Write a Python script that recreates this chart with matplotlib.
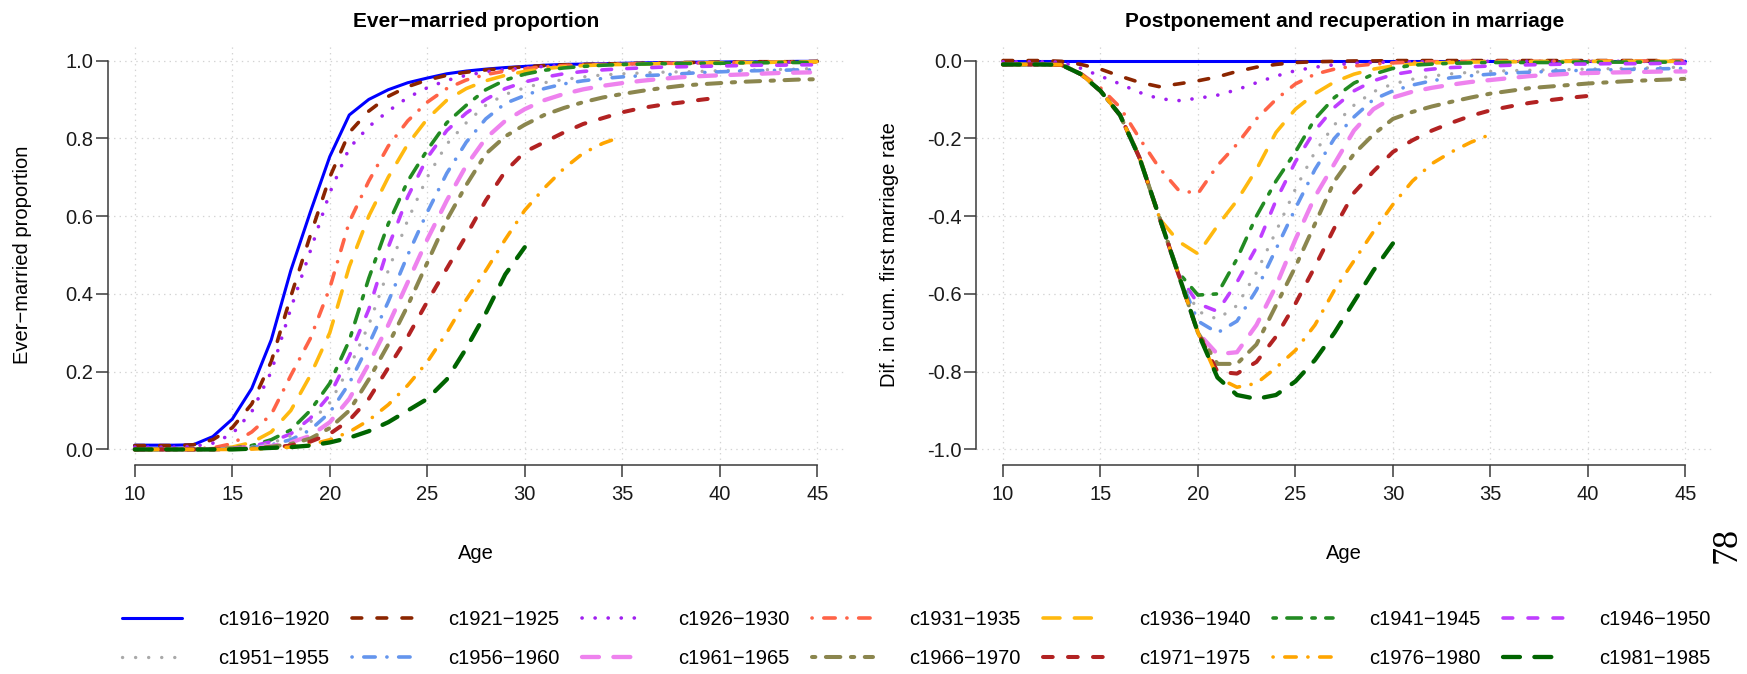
import numpy as np
import matplotlib
matplotlib.use('Agg')
import matplotlib.pyplot as plt

plt.rcParams['font.family'] = ['Liberation Sans', 'DejaVu Sans']
plt.rcParams['lines.scale_dashes'] = False
plt.rcParams['axes.unicode_minus'] = False

ages = list(range(10, 46))

cohorts = ['c1916\u22121920', 'c1921\u22121925', 'c1926\u22121930', 'c1931\u22121935',
           'c1936\u22121940', 'c1941\u22121945', 'c1946\u22121950', 'c1951\u22121955',
           'c1956\u22121960', 'c1961\u22121965', 'c1966\u22121970', 'c1971\u22121975',
           'c1976\u22121980', 'c1981\u22121985']

# ever-married proportion by age (10..45, shorter for young cohorts)
p1916 = [0.011, 0.011, 0.011, 0.012, 0.033, 0.078, 0.157, 0.282, 0.460, 0.610,
         0.753, 0.860, 0.900, 0.925, 0.943, 0.955, 0.966, 0.973, 0.978, 0.982,
         0.985, 0.988, 0.990, 0.991, 0.992, 0.993, 0.994, 0.995, 0.995, 0.996,
         0.996, 0.997, 0.997, 0.997, 0.998, 0.998]
p1921 = [0.010, 0.010, 0.010, 0.012, 0.025, 0.056, 0.117, 0.226, 0.393, 0.550,
         0.700, 0.815, 0.870, 0.908, 0.933, 0.950, 0.962, 0.970, 0.976, 0.980,
         0.984, 0.987, 0.989, 0.990, 0.991, 0.992, 0.993, 0.994, 0.995, 0.995,
         0.996, 0.996, 0.997, 0.997, 0.997, 0.998]
p1926 = [0.006, 0.006, 0.006, 0.008, 0.016, 0.040, 0.097, 0.200, 0.362, 0.510,
         0.660, 0.775, 0.830, 0.870, 0.905, 0.930, 0.949, 0.962, 0.971, 0.977,
         0.981, 0.985, 0.987, 0.989, 0.990, 0.991, 0.992, 0.993, 0.993, 0.994,
         0.994, 0.995, 0.995, 0.996, 0.996, 0.996]
p1931 = [0.000, 0.000, 0.000, 0.002, 0.004, 0.015, 0.045, 0.090, 0.190, 0.285,
         0.415, 0.585, 0.690, 0.780, 0.845, 0.893, 0.928, 0.950, 0.964, 0.973,
         0.979, 0.984, 0.987, 0.989, 0.990, 0.991, 0.992, 0.993, 0.993, 0.994,
         0.994, 0.995, 0.995, 0.996, 0.996, 0.996]
p1936 = [0.000, 0.000, 0.000, 0.000, 0.002, 0.006, 0.018, 0.045, 0.100, 0.190,
         0.300, 0.470, 0.600, 0.700, 0.785, 0.850, 0.898, 0.928, 0.948, 0.962,
         0.972, 0.979, 0.984, 0.987, 0.989, 0.990, 0.991, 0.992, 0.993, 0.994,
         0.994, 0.995, 0.995, 0.996, 0.996, 0.997]
p1941 = [0.000, 0.000, 0.000, 0.000, 0.001, 0.003, 0.010, 0.025, 0.050, 0.100,
         0.170, 0.280, 0.440, 0.580, 0.690, 0.770, 0.840, 0.885, 0.925, 0.950,
         0.965, 0.975, 0.981, 0.985, 0.988, 0.990, 0.991, 0.992, 0.992, 0.993,
         0.993, 0.994, 0.994, 0.995, 0.995, 0.995]
p1946 = [0.000, 0.000, 0.000, 0.000, 0.001, 0.003, 0.008, 0.020, 0.040, 0.080,
         0.140, 0.240, 0.360, 0.520, 0.650, 0.750, 0.820, 0.865, 0.900, 0.928,
         0.945, 0.957, 0.966, 0.972, 0.976, 0.979, 0.981, 0.983, 0.984, 0.985,
         0.986, 0.987, 0.988, 0.988, 0.989, 0.989]
p1951 = [0.000, 0.000, 0.000, 0.000, 0.001, 0.002, 0.006, 0.016, 0.035, 0.070,
         0.120, 0.210, 0.320, 0.460, 0.590, 0.700, 0.785, 0.840, 0.885, 0.913,
         0.930, 0.943, 0.951, 0.958, 0.963, 0.966, 0.968, 0.970, 0.971, 0.972,
         0.974, 0.975, 0.976, 0.977, 0.978, 0.980]
p1956 = [0.000, 0.000, 0.000, 0.000, 0.001, 0.002, 0.005, 0.012, 0.025, 0.050,
         0.095, 0.170, 0.270, 0.380, 0.500, 0.610, 0.710, 0.790, 0.850, 0.890,
         0.910, 0.928, 0.940, 0.948, 0.954, 0.958, 0.961, 0.963, 0.966, 0.969,
         0.971, 0.973, 0.974, 0.975, 0.976, 0.976]
p1961 = [0.000, 0.000, 0.000, 0.000, 0.001, 0.002, 0.004, 0.009, 0.018, 0.035,
         0.070, 0.130, 0.220, 0.320, 0.430, 0.540, 0.640, 0.730, 0.800, 0.845,
         0.875, 0.898, 0.914, 0.926, 0.935, 0.942, 0.948, 0.953, 0.957, 0.960,
         0.962, 0.964, 0.966, 0.968, 0.969, 0.970]
p1966 = [0.000, 0.000, 0.000, 0.000, 0.001, 0.002, 0.003, 0.007, 0.014, 0.028,
         0.055, 0.100, 0.180, 0.270, 0.370, 0.480, 0.590, 0.680, 0.760, 0.805,
         0.835, 0.860, 0.878, 0.893, 0.905, 0.914, 0.922, 0.929, 0.935, 0.939,
         0.942, 0.945, 0.947, 0.949, 0.951, 0.952]
p1971 = [0.000, 0.000, 0.000, 0.000, 0.000, 0.001, 0.002, 0.005, 0.010, 0.020,
         0.040, 0.075, 0.130, 0.210, 0.290, 0.380, 0.465, 0.550, 0.640, 0.715,
         0.765, 0.790, 0.815, 0.837, 0.852, 0.867, 0.878, 0.886, 0.892, 0.899,
         0.905]
p1976 = [0.000, 0.000, 0.000, 0.000, 0.000, 0.000, 0.001, 0.003, 0.006, 0.012,
         0.025, 0.045, 0.075, 0.115, 0.165, 0.225, 0.300, 0.385, 0.460, 0.540,
         0.615, 0.672, 0.722, 0.762, 0.787, 0.805]
p1981 = [0.000, 0.000, 0.000, 0.000, 0.000, 0.000, 0.002, 0.004, 0.006, 0.010,
         0.018, 0.030, 0.047, 0.070, 0.100, 0.130, 0.180, 0.260, 0.350, 0.450,
         0.520]

# difference in cumulated first marriage rate vs c1916-1920
d1916 = [0.0, 0.0, 0.0, 0.0, 0.0, 0.0, 0.0, 0.0, 0.0, 0.0,
         0.0, 0.0, 0.0, 0.0, 0.0, 0.0, 0.0, 0.0, 0.0, 0.0,
         0.0, 0.0, 0.0, 0.0, 0.0, 0.0, 0.0, 0.0, 0.0, 0.0,
         0.0, 0.0, 0.0, 0.0, 0.0, 0.0]
d1921 = [0.0, 0.0, 0.0, -0.002, -0.010, -0.022, -0.040, -0.056, -0.067, -0.060,
         -0.052, -0.042, -0.028, -0.017, -0.010, -0.005, -0.003, -0.002, -0.001, -0.001,
         0.0, 0.0, 0.0, 0.0, 0.0, 0.0, 0.0, 0.0, 0.0, 0.0,
         0.0, 0.0, 0.0, 0.0, 0.0, 0.0]
d1926 = [-0.003, -0.003, -0.003, -0.004, -0.020, -0.040, -0.060, -0.082, -0.098, -0.103,
         -0.097, -0.089, -0.075, -0.057, -0.040, -0.026, -0.017, -0.011, -0.007, -0.005,
         -0.004, -0.003, -0.003, -0.003, -0.002, -0.002, -0.002, -0.002, -0.002, -0.002,
         -0.002, -0.002, -0.002, -0.002, -0.002, -0.002]
d1931 = [-0.010, -0.010, -0.010, -0.011, -0.033, -0.070, -0.120, -0.200, -0.275, -0.333,
         -0.342, -0.270, -0.215, -0.150, -0.100, -0.060, -0.035, -0.022, -0.014, -0.009,
         -0.006, -0.004, -0.003, -0.003, -0.002, -0.002, -0.002, -0.002, -0.002, -0.001,
         -0.001, -0.001, -0.001, -0.001, -0.001, -0.001]
d1936 = [-0.010, -0.010, -0.010, -0.011, -0.035, -0.078, -0.140, -0.245, -0.405, -0.465,
         -0.497, -0.425, -0.360, -0.280, -0.185, -0.125, -0.085, -0.055, -0.035, -0.022,
         -0.014, -0.009, -0.006, -0.005, -0.004, -0.003, -0.003, -0.003, -0.002, -0.002,
         -0.002, -0.002, -0.002, -0.002, -0.002, -0.002]
d1941 = [-0.010, -0.010, -0.010, -0.011, -0.035, -0.078, -0.140, -0.250, -0.400, -0.545,
         -0.603, -0.600, -0.510, -0.400, -0.310, -0.235, -0.150, -0.095, -0.058, -0.035,
         -0.020, -0.012, -0.009, -0.007, -0.006, -0.005, -0.005, -0.005, -0.005, -0.004,
         -0.004, -0.004, -0.004, -0.004, -0.004, -0.004]
d1946 = [-0.010, -0.010, -0.010, -0.011, -0.035, -0.078, -0.140, -0.250, -0.400, -0.550,
         -0.625, -0.645, -0.570, -0.480, -0.360, -0.260, -0.180, -0.120, -0.078, -0.052,
         -0.036, -0.028, -0.022, -0.018, -0.016, -0.014, -0.012, -0.011, -0.010, -0.009,
         -0.009, -0.008, -0.008, -0.008, -0.007, -0.007]
d1951 = [-0.010, -0.010, -0.010, -0.011, -0.035, -0.078, -0.140, -0.250, -0.400, -0.550,
         -0.645, -0.665, -0.630, -0.545, -0.440, -0.330, -0.235, -0.165, -0.115, -0.080,
         -0.060, -0.048, -0.040, -0.034, -0.030, -0.028, -0.026, -0.025, -0.024, -0.023,
         -0.022, -0.021, -0.020, -0.019, -0.018, -0.017]
d1956 = [-0.010, -0.010, -0.010, -0.011, -0.035, -0.078, -0.140, -0.250, -0.400, -0.550,
         -0.670, -0.700, -0.670, -0.590, -0.485, -0.380, -0.280, -0.200, -0.145, -0.100,
         -0.078, -0.063, -0.052, -0.044, -0.039, -0.035, -0.032, -0.030, -0.028, -0.026,
         -0.025, -0.024, -0.023, -0.022, -0.021, -0.020]
d1961 = [-0.010, -0.010, -0.010, -0.011, -0.035, -0.078, -0.140, -0.250, -0.400, -0.550,
         -0.700, -0.755, -0.750, -0.680, -0.580, -0.460, -0.350, -0.265, -0.180, -0.125,
         -0.095, -0.080, -0.070, -0.062, -0.055, -0.050, -0.045, -0.040, -0.037, -0.034,
         -0.032, -0.031, -0.030, -0.029, -0.028, -0.028]
d1966 = [-0.010, -0.010, -0.010, -0.011, -0.035, -0.078, -0.140, -0.250, -0.400, -0.550,
         -0.700, -0.780, -0.780, -0.730, -0.630, -0.530, -0.420, -0.310, -0.240, -0.190,
         -0.150, -0.132, -0.118, -0.106, -0.095, -0.085, -0.078, -0.071, -0.067, -0.063,
         -0.059, -0.056, -0.053, -0.051, -0.049, -0.047]
d1971 = [-0.010, -0.010, -0.010, -0.011, -0.035, -0.078, -0.140, -0.250, -0.400, -0.550,
         -0.700, -0.800, -0.805, -0.775, -0.710, -0.625, -0.530, -0.430, -0.340, -0.285,
         -0.235, -0.205, -0.180, -0.160, -0.142, -0.128, -0.118, -0.109, -0.102, -0.096,
         -0.091]
d1976 = [-0.010, -0.010, -0.010, -0.011, -0.035, -0.078, -0.140, -0.250, -0.400, -0.550,
         -0.700, -0.815, -0.840, -0.830, -0.790, -0.745, -0.680, -0.590, -0.515, -0.440,
         -0.370, -0.310, -0.265, -0.235, -0.210, -0.190]
d1981 = [-0.010, -0.010, -0.010, -0.011, -0.035, -0.078, -0.140, -0.250, -0.400, -0.550,
         -0.700, -0.815, -0.860, -0.870, -0.860, -0.825, -0.770, -0.700, -0.620, -0.540,
         -0.470]

props = [p1916, p1921, p1926, p1931, p1936, p1941, p1946,
         p1951, p1956, p1961, p1966, p1971, p1976, p1981]
diffs = [d1916, d1921, d1926, d1931, d1936, d1941, d1946,
         d1951, d1956, d1961, d1966, d1971, d1976, d1981]

# R-like line types (points, unscaled)
solid = '-'
dashed = (0, (7.0, 11.0))
dotted = (0, (0.1, 9.3))
dotdash = (0, (0.1, 8.4, 8.2, 8.4))
longdash = (0, (12.2, 10.4))
twodash = (0, (2.4, 7.6, 10.4, 7.6))

colors = ['#0000FF', '#8B2500', '#A020F0', '#FF6347', '#FFB90F', '#228B22', '#BF3EFF',
          '#A9A9A9', '#6495ED', '#EE82EE', '#8B864E', '#B22222', '#FFA500', '#006400']
styles = [solid, dashed, dotted, dotdash, longdash, twodash, dashed,
          dotted, dotdash, longdash, twodash, dashed, dotdash, longdash]
widths = [2.2, 2.6, 2.6, 2.6, 2.6, 2.6, 2.6, 2.4, 2.6, 3.1, 2.9, 2.9, 2.6, 3.1]

fig = plt.figure(figsize=(17.47, 6.74), dpi=100)
W, H = 1747, 674
axL = fig.add_axes([107.5 / W, 1 - 465 / H, 737 / W, 420 / H])
axR = fig.add_axes([975.7 / W, 1 - 465 / H, 737 / W, 420 / H])

handles = []
for i in range(len(cohorts)):
    n = len(props[i])
    ln, = axL.plot(ages[:n], props[i], color=colors[i], ls=styles[i], lw=widths[i],
                   dash_capstyle='round', solid_capstyle='round', label=cohorts[i])
    handles.append(ln)
    m = len(diffs[i])
    axR.plot(ages[:m], diffs[i], color=colors[i], ls=styles[i], lw=widths[i],
             dash_capstyle='round', solid_capstyle='round')

xt = [10, 15, 20, 25, 30, 35, 40, 45]
for ax in (axL, axR):
    ax.set_xlim(8.6, 46.4)
    ax.set_xticks(xt)
    ax.set_xticklabels([str(v) for v in xt])
    for s in ('top', 'right'):
        ax.spines[s].set_visible(False)
    for s in ('left', 'bottom'):
        ax.spines[s].set_color('#3a3a3a')
        ax.spines[s].set_linewidth(1.1)
    ax.spines['bottom'].set_bounds(10, 45)
    ax.tick_params(axis='x', length=8.6, width=1.1, color='#3a3a3a', pad=6,
                   labelsize=14.5, labelcolor='#1a1a1a')
    ax.tick_params(axis='y', length=8.6, width=1.1, color='#3a3a3a', pad=1.5,
                   labelsize=14.5, labelcolor='#1a1a1a')
    ax.grid(True, color='#D3D3D3', ls=(0, (1, 3)), lw=0.9)
    ax.set_axisbelow(True)
    ax.set_xlabel('Age', fontsize=14.5)
    ax.xaxis.label.set_va('center')
    ax.xaxis.set_label_coords(0.5, -0.2096)

axL.set_ylim(-0.04, 1.04)
axL.set_yticks([0, 0.2, 0.4, 0.6, 0.8, 1.0])
axL.set_yticklabels(['0.0', '0.2', '0.4', '0.6', '0.8', '1.0'])
axL.spines['left'].set_bounds(0, 1)
axL.set_ylabel('Ever\u2212married proportion', fontsize=14.5)
axL.yaxis.label.set_va('center')
axL.yaxis.set_label_coords(-0.116, 0.5)
axL.text(0.5, 1.055, 'Ever\u2212married proportion', transform=axL.transAxes,
         ha='center', va='center', fontsize=15, fontweight='bold')

axR.set_ylim(-1.04, 0.04)
axR.set_yticks([0, -0.2, -0.4, -0.6, -0.8, -1.0])
axR.set_yticklabels(['0.0', '-0.2', '-0.4', '-0.6', '-0.8', '-1.0'])
axR.spines['left'].set_bounds(-1, 0)
axR.set_ylabel('Dif. in cum. first marriage rate', fontsize=14.5)
axR.yaxis.label.set_va('center')
axR.yaxis.set_label_coords(-0.1163, 0.5)
axR.text(0.5, 1.055, 'Postponement and recuperation in marriage', transform=axR.transAxes,
         ha='center', va='center', fontsize=15, fontweight='bold')

# legend in two rows of seven (row-major order)
order = []
for c in range(7):
    order += [c, c + 7]
fig.legend([handles[k] for k in order], [cohorts[k] for k in order], ncol=7,
           loc='upper left', bbox_to_anchor=(122 / W, 1 - 610 / H), frameon=False,
           fontsize=14.5, handlelength=2.99, handletextpad=1.79, columnspacing=1.12,
           labelspacing=1.0, borderpad=0, borderaxespad=0)

fig.text(1727 / W, 1 - 545 / H, '78', rotation=90, ha='center', va='center',
         fontsize=26, family=['Liberation Serif', 'DejaVu Serif'])

fig.savefig('out.png', dpi=100)
